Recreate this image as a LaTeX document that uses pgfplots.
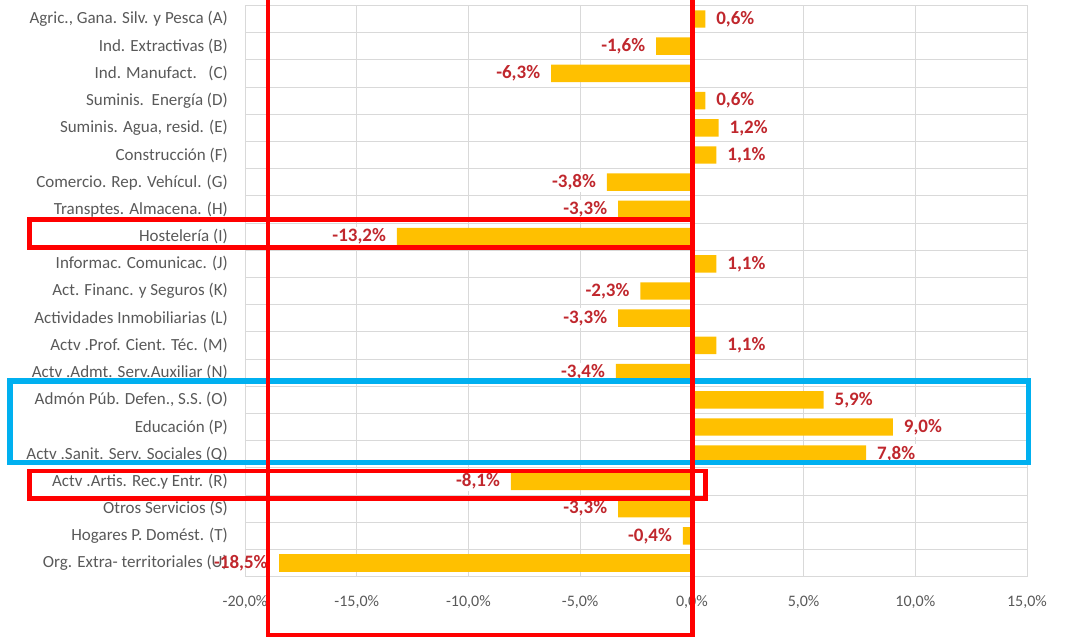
\documentclass[border=0pt]{standalone}
\usepackage{pgfplots}
\pgfplotsset{compat=1.18}
\usepackage{pgfplotstable}
\usepackage{fontspec}
\setmainfont{Carlito}
\definecolor{barc}{HTML}{FFC000}
\definecolor{labc}{HTML}{C0272D}
\definecolor{txtc}{HTML}{595959}
\definecolor{gridc}{HTML}{D9D9D9}
\definecolor{boxred}{HTML}{FF0000}
\definecolor{boxblue}{HTML}{00B0F0}

% positive changes
\pgfplotstableread{
y x lab
0 0.6 0,6
3 0.6 0,6
4 1.2 1,2
5 1.1 1,1
9 1.1 1,1
12 1.1 1,1
14 5.9 5,9
15 9.0 9,0
16 7.8 7,8
}\postable

% negative changes
\pgfplotstableread{
y x lab
1 -1.6 -1,6
2 -6.3 -6,3
6 -3.8 -3,8
7 -3.3 -3,3
8 -13.2 -13,2
10 -2.3 -2,3
11 -3.3 -3,3
13 -3.4 -3,4
17 -8.1 -8,1
18 -3.3 -3,3
19 -0.4 -0,4
}\negtable

% extra-territorial organisations (label overlaps the category name)
\pgfplotstableread{
y x lab
20 -18.5 -18,5
}\utable

\begin{document}
\begin{tikzpicture}[x=1pt,y=1pt]
\useasboundingbox (0,0) rectangle (1076,639);
\begin{axis}[
  at={(245pt,62.4pt)}, anchor=south west,
  width=782pt, height=571.2pt, scale only axis,
  xbar, bar width=0.64, bar shift=0pt,
  xmin=-20, xmax=15, ymin=-0.5, ymax=20.5, y dir=reverse,
  xtick={-20,-15,-10,-5,0,5,10,15},
  ytick={0,1,...,20},
  yticklabels={
    {Agric., Gana. Silv. y Pesca (A)},
    {Ind. Extractivas (B)},
    {Ind. Manufact.\ \ \ (C)},
    {Suminis.\ \ Energía (D)},
    {Suminis. Agua, resid. (E)},
    {Construcción (F)},
    {Comercio. Rep. Vehícul. (G)},
    {Transptes. Almacena. (H)},
    {Hostelería (I)},
    {Informac. Comunicac. (J)},
    {Act. Financ. y Seguros (K)},
    {Actividades Inmobiliarias (L)},
    {Actv .Prof. Cient. Téc. (M)},
    {Actv .Admt. Serv.Auxiliar (N)},
    {Admón Púb. Defen., S.S. (O)},
    {Educación (P)},
    {Actv .Sanit. Serv. Sociales (Q)},
    {Actv .Artis. Rec.y Entr. (R)},
    {Otros Servicios (S)},
    {Hogares P. Domést. (T)},
    {Org. Extra- territoriales (U)}},
  minor ytick={-0.5,0.5,1.5,2.5,3.5,4.5,5.5,6.5,7.5,8.5,9.5,10.5,11.5,12.5,13.5,14.5,15.5,16.5,17.5,18.5,19.5,20.5},
  xmajorgrids, yminorgrids,
  major grid style={gridc, line width=0.9pt},
  minor grid style={gridc, line width=0.9pt},
  axis line style={gridc, line width=0.9pt},
  major tick length=0pt, minor tick length=0pt,
  tick style={draw=none},
  xticklabel={\pgfmathprintnumber[fixed,fixed zerofill,precision=1,use comma,assume math mode=true]{\tick}\%},
  xticklabel style={font=\fontsize{16}{16}\selectfont, text=txtc, anchor=base, inner sep=0pt, yshift=-30pt},
  yticklabel style={font=\fontsize{17}{17}\selectfont, text=txtc, anchor=east, inner sep=0pt, xshift=-17pt},
  clip=false,
]
\addplot[fill=barc, draw=none,
  point meta=explicit symbolic,
  nodes near coords={\pgfplotspointmeta\%},
  nodes near coords align=horizontal,
  every node near coord/.append style={anchor=west, font=\bfseries\fontsize{19}{19}\selectfont, text=labc, fill=white, inner sep=2pt, outer xsep=9pt}]
  table[x=x,y=y,meta=lab]{\postable};
\addplot[fill=barc, draw=none,
  point meta=explicit symbolic,
  nodes near coords={\pgfplotspointmeta\%},
  nodes near coords align=horizontal,
  every node near coord/.append style={anchor=east, font=\bfseries\fontsize{19}{19}\selectfont, text=labc, fill=white, inner sep=2pt, outer xsep=9pt}]
  table[x=x,y=y,meta=lab]{\negtable};
\addplot[fill=barc, draw=none,
  point meta=explicit symbolic,
  nodes near coords={\pgfplotspointmeta\%},
  nodes near coords align=horizontal,
  every node near coord/.append style={anchor=east, font=\bfseries\fontsize{19}{19}\selectfont, text=labc, inner sep=2pt, outer xsep=9pt}]
  table[x=x,y=y,meta=lab]{\utable};
\end{axis}
% annotation frames
\draw[boxblue, line width=5.5pt] (10,258) rectangle (1028.5,176.5);
\draw[boxred, line width=4.5pt] (268,639) -- (268,4) -- (692.5,4) -- (692.5,639);
\draw[boxred, line width=4.5pt] (29.5,419.5) rectangle (693,391.5);
\draw[boxred, line width=4.5pt] (29.5,168) rectangle (705.5,140.5);
\end{tikzpicture}
\end{document}
